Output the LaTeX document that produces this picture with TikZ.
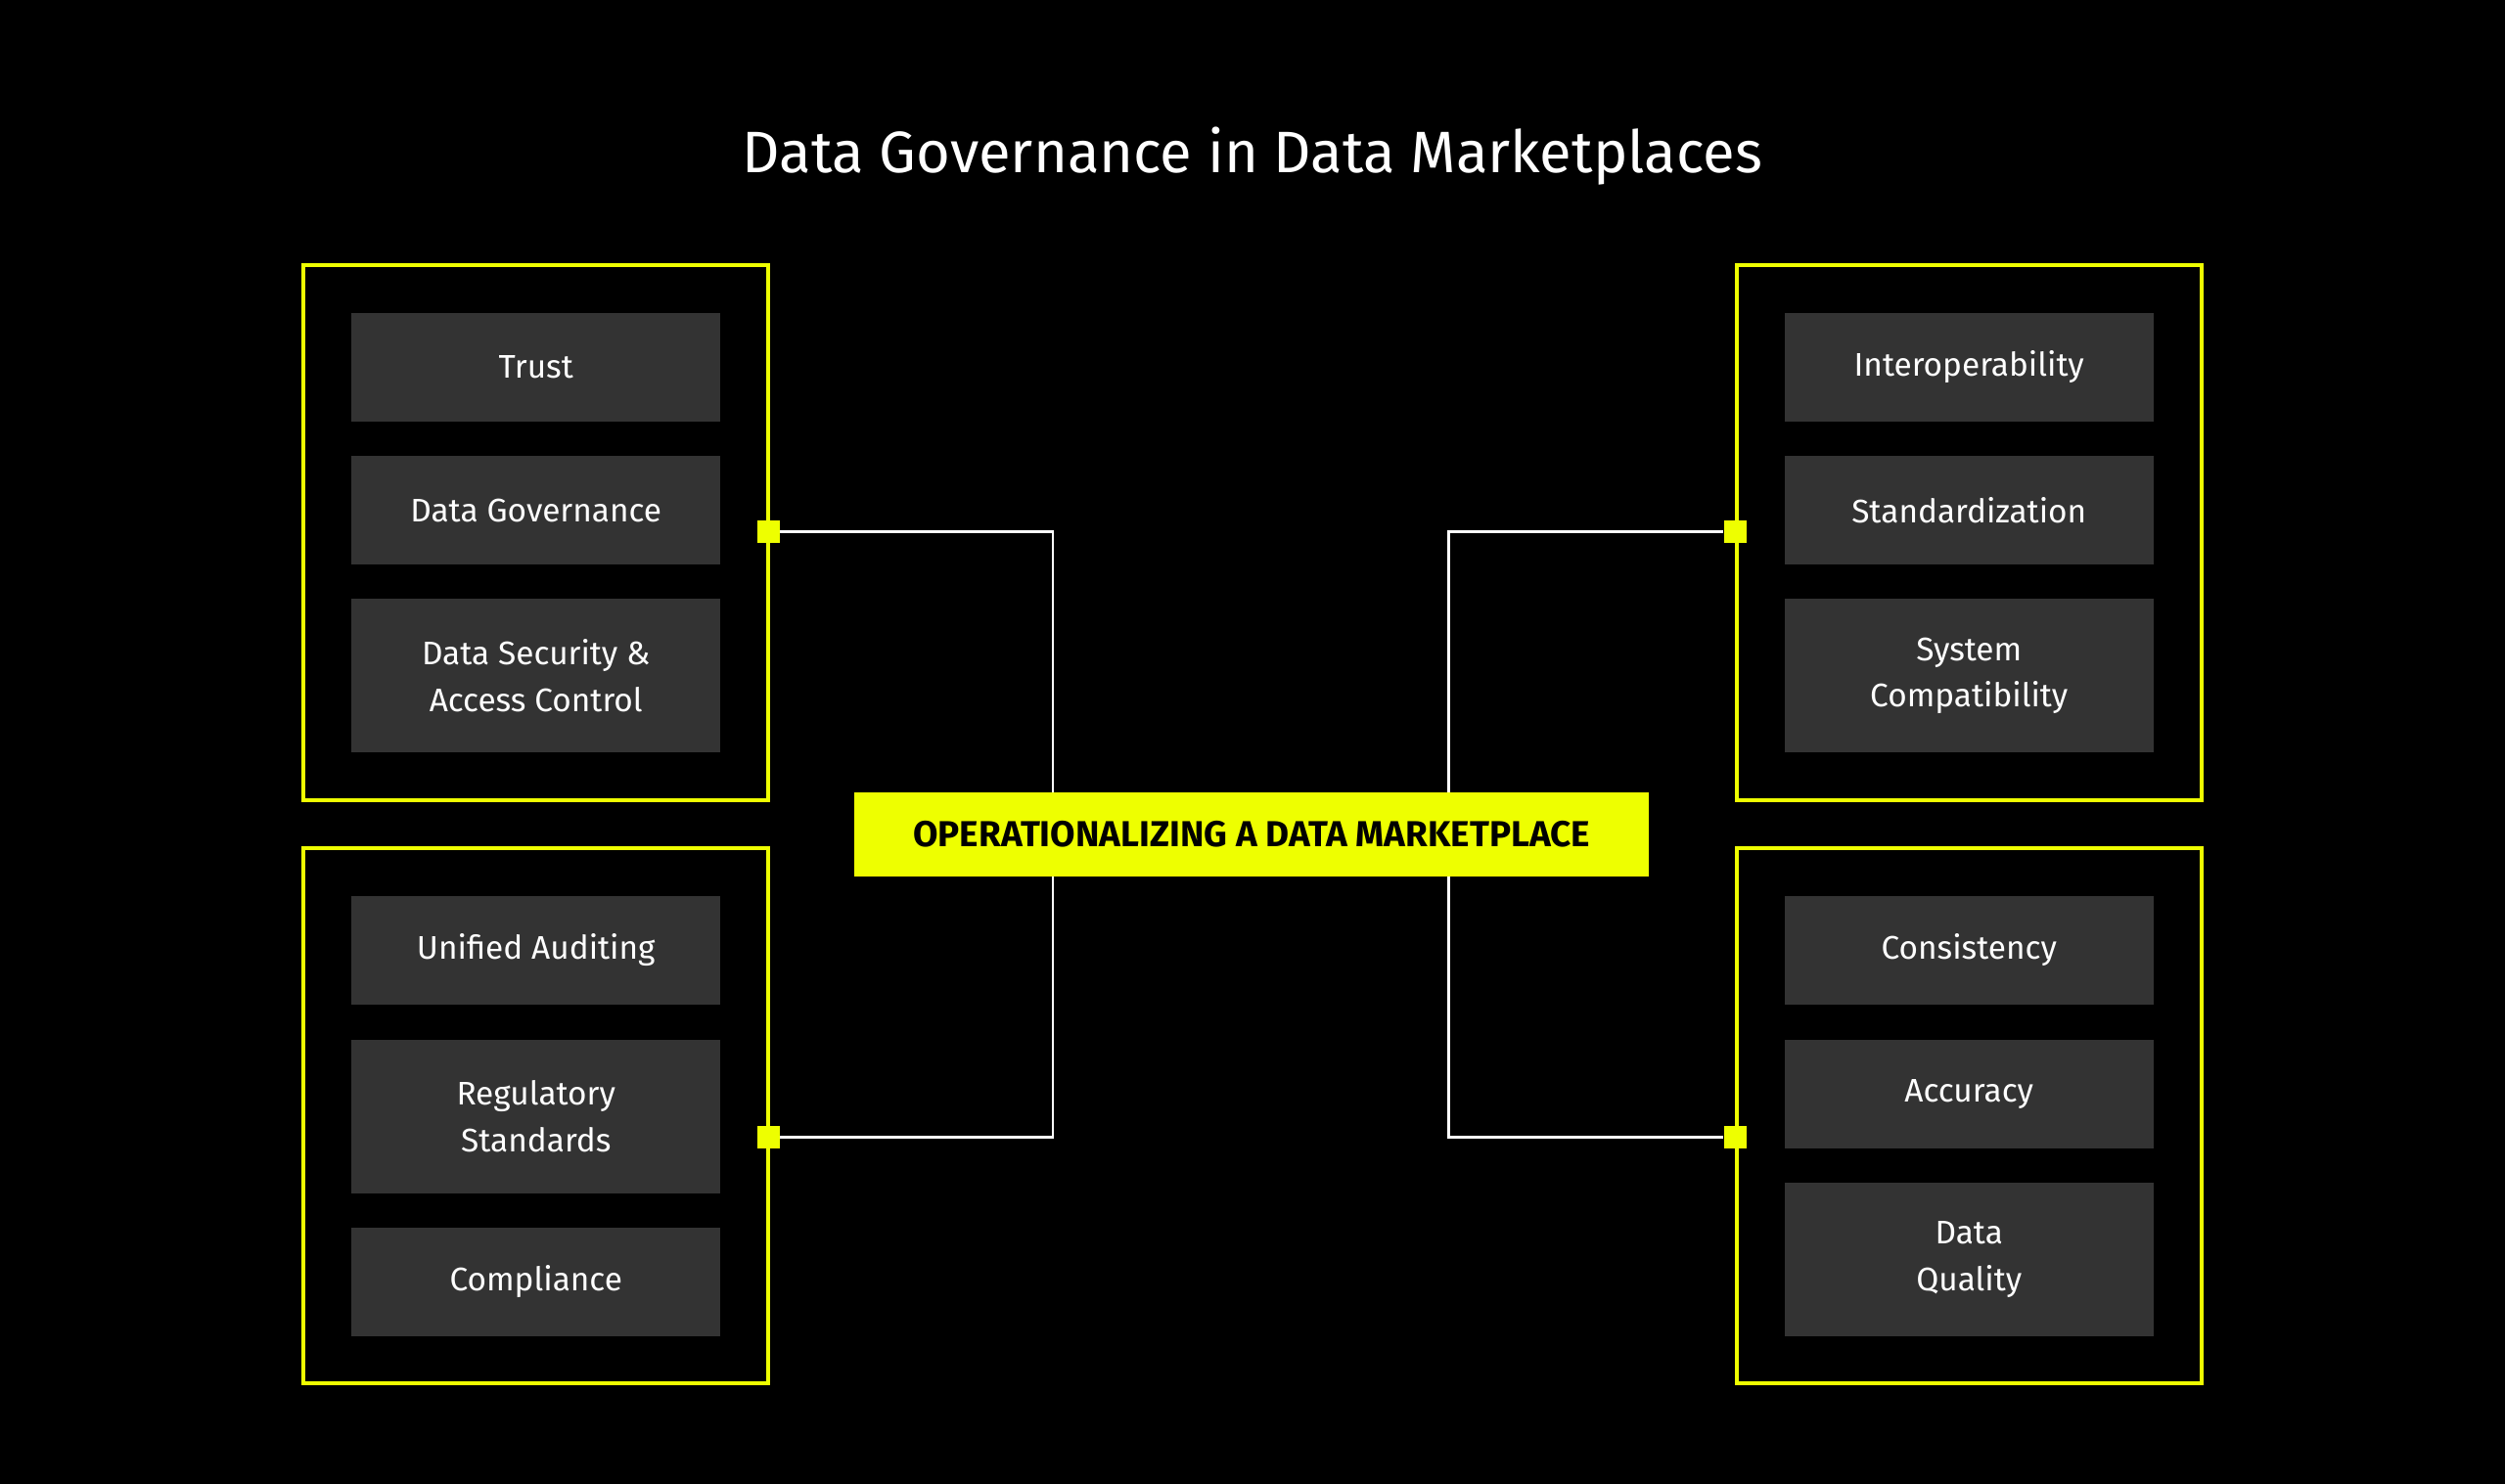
\documentclass[tikz,border=0pt]{standalone}
\usepackage{fontspec}
\setmainfont{Fira Sans}
\usetikzlibrary{positioning}
\definecolor{lime}{HTML}{EEFF00}
\definecolor{cell}{HTML}{333333}
\tikzset{
	group/.style={draw=lime, line width=1.2pt, minimum width=291*0.016327cm, minimum height=335*0.016327cm},
	item/.style={fill=cell, text=white, minimum width=231*0.016327cm, align=center, font=\fontsize{9.5}{13.5}\selectfont},
	port/.style={fill=lime, minimum size=14*0.016327cm, inner sep=0pt},
	link/.style={white, line width=0.8pt}
}
\begin{document}
\begin{tikzpicture}[x=0.016327cm, y=-0.016327cm]
	\fill[black] (0,0) rectangle (1568,929);
	\node[white, font=\fontsize{17}{20}\selectfont] (title) at (784,98) {Data Governance in Data Marketplaces};
	% groups
	\node[group] (tl) at (335.5,333.5) {};
	\node[group] (bl) at (335.5,698.5) {};
	\node[group] (tr) at (1232.5,333.5) {};
	\node[group] (br) at (1232.5,698.5) {};
	% left top
	\node[item, minimum height=68*0.016327cm] (trust) at (335.5,230) {Trust};
	\node[item, minimum height=68*0.016327cm] (gov) at (335.5,319.5) {Data Governance};
	\node[item, minimum height=96*0.016327cm] (sec) at (335.5,423) {Data Security \&\\Access Control};
	% left bottom
	\node[item, minimum height=68*0.016327cm] (audit) at (335.5,595) {Unified Auditing};
	\node[item, minimum height=96*0.016327cm] (reg) at (335.5,699) {Regulatory\\Standards};
	\node[item, minimum height=68*0.016327cm] (comp) at (335.5,802.5) {Compliance};
	% right top
	\node[item, minimum height=68*0.016327cm] (inter) at (1232.5,230) {Interoperability};
	\node[item, minimum height=68*0.016327cm] (std) at (1232.5,319.5) {Standardization};
	\node[item, minimum height=96*0.016327cm] (sys) at (1232.5,423) {System\\Compatibility};
	% right bottom
	\node[item, minimum height=68*0.016327cm] (cons) at (1232.5,595) {Consistency};
	\node[item, minimum height=68*0.016327cm] (acc) at (1232.5,685) {Accuracy};
	\node[item, minimum height=96*0.016327cm] (qual) at (1232.5,788.5) {Data\\Quality};
	% centre
	\node[fill=lime, minimum width=497*0.016327cm, minimum height=53*0.016327cm, font=\fontsize{10.5}{12}\selectfont\bfseries] (ops) at (783.5,522.5) {OPERATIONALIZING A DATA MARKETPLACE};
	\coordinate (ltop) at (659,496);
	\coordinate (lbot) at (659,549);
	\coordinate (rtop) at (907,496);
	\coordinate (rbot) at (907,549);
	% ports and links
	\node[port] (ptl) at (481,333) {};
	\node[port] (pbl) at (481,712) {};
	\node[port] (ptr) at (1086,333) {};
	\node[port] (pbr) at (1086,712) {};
	\draw[link] (ptl.east) -| (ltop);
	\draw[link] (pbl.east) -| (lbot);
	\draw[link] (ptr.west) -| (rtop);
	\draw[link] (pbr.west) -| (rbot);
\end{tikzpicture}
\end{document}
